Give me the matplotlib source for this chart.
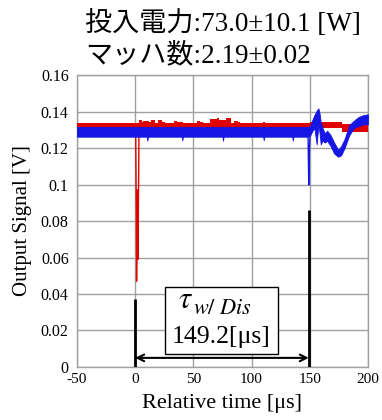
import matplotlib
matplotlib.use("Agg")
import matplotlib.pyplot as plt
from matplotlib.patches import Rectangle

plt.rcParams['mathtext.fontset'] = 'stix'

# ---- data ----
# Red trace (band envelope, step-wise), relative time [us], signal [V]
red_t  = [-50, 3, 6, 7, 12, 14, 17, 20, 23, 26, 33, 36, 41, 53, 56, 58, 64, 70, 72, 78, 82,
          85, 88, 90, 110, 112, 130, 150, 178, 200]
red_hi = [0.1338, 0.1352, 0.1340, 0.1350, 0.1340, 0.1352, 0.1338, 0.1351, 0.1340, 0.1338,
          0.1349, 0.1340, 0.1338, 0.1349, 0.1341, 0.1338, 0.1358, 0.1366, 0.1355, 0.1362,
          0.1338, 0.1347, 0.1340, 0.1338, 0.1343, 0.1338, 0.1338, 0.1344, 0.1334, 0.1334]
red_lo = [0.1305] * 27 + [0.1308, 0.1285, 0.1285]
# Red discharge dip around t = 0
red_dip_t = [0.4, 0.9, 1.2, 1.6, 2.0, 2.4, 2.8, 3.3]
red_dip_v = [0.131, 0.090, 0.047, 0.075, 0.097, 0.059, 0.090, 0.131]

# Blue trace (band envelope)
blue_t  = [-50, 10, 10.5, 11, 40, 40.5, 41, 75, 75.5, 76, 110, 110.5, 111, 135, 135.5, 136,
           148.5, 150.5, 152, 154, 156, 157.5, 158.5, 159.5, 161, 163, 165, 168, 171,
           174.5, 177, 180, 184, 188, 192, 196, 200]
blue_lo = [0.1262, 0.1262, 0.1240, 0.1262, 0.1262, 0.1242, 0.1262, 0.1262, 0.1240, 0.1262,
           0.1262, 0.1243, 0.1262, 0.1262, 0.1241, 0.1262,
           0.1262, 0.1270, 0.1290, 0.1310, 0.1220, 0.1330, 0.1280, 0.1220, 0.1240, 0.1230,
           0.1240, 0.1210, 0.1170, 0.1152, 0.1160, 0.1200, 0.1270, 0.1310, 0.1320, 0.1330, 0.1330]
blue_hi = [0.1316, 0.1316, 0.1316, 0.1316, 0.1316, 0.1316, 0.1316, 0.1316, 0.1316, 0.1316,
           0.1316, 0.1316, 0.1316, 0.1316, 0.1316, 0.1316,
           0.1316, 0.1320, 0.1350, 0.1380, 0.1405, 0.1417, 0.1390, 0.1340, 0.1310, 0.1280,
           0.1295, 0.1270, 0.1230, 0.1190, 0.1210, 0.1250, 0.1326, 0.1350, 0.1370, 0.1380, 0.1385]
# Blue dip at the second discharge
blue_dip_t = [148.6, 149.2, 149.8, 150.5]
blue_dip_v = [0.127, 0.0997, 0.120, 0.130]

# Annotation values
tau = 149.2
marker0_top = 0.037
marker1_top = 0.086
arrow_y = 0.005

title_lines = ["投入電力:73.0±10.1 [W]", "マッハ数:2.19±0.02"]
x_ticks = [-50, 0, 50, 100, 150, 200]
y_ticks = [0, 0.02, 0.04, 0.06, 0.08, 0.1, 0.12, 0.14, 0.16]
y_ticklabels = ["0", "0.02", "0.04", "0.06", "0.08", "0.1", "0.12", "0.14", "0.16"]

serif = ['Liberation Serif', 'Noto Sans CJK JP']
red = '#e00000'
blue = '#1515e6'

fig = plt.figure(figsize=(3.82, 4.2), dpi=100)
ax = fig.add_axes([0.2016, 0.1262, 0.7614, 0.6952])

ax.fill_between(red_t, red_lo, red_hi, step='post', color=red, lw=0, zorder=3)
ax.plot(red_dip_t, red_dip_v, color=red, lw=1.0, zorder=3)
ax.fill_between(blue_t, blue_lo, blue_hi, color=blue, lw=0.6, edgecolor=blue, zorder=4)
ax.plot(blue_dip_t, blue_dip_v, color=blue, lw=1.0, zorder=4)

# markers
ax.plot([0, 0], [0, marker0_top], color='black', lw=2, zorder=5, solid_capstyle='butt')
ax.plot([tau, tau], [0, marker1_top], color='black', lw=2, zorder=5, solid_capstyle='butt')
ax.annotate('', xy=(tau, arrow_y), xytext=(0, arrow_y),
            arrowprops=dict(arrowstyle='<->', color='black', lw=1.5,
                            shrinkA=0, shrinkB=0, mutation_scale=12), zorder=6)
ax.add_patch(Rectangle((25.8, 0.0071), 97.1, 0.0367, fc='white', ec='black', lw=1, zorder=7))
ax.text(43, 0.0372, r'$\tau$', ha='center', va='center', fontsize=22, zorder=8)
ax.text(49.5, 0.0322, r'$w/\ Dis$', ha='left', va='center', fontsize=16, zorder=8)
ax.text(74, 0.0164, f'{tau}[μs]', ha='center', va='center', fontsize=18.5,
        family=serif, zorder=8)

ax.set_xlim(-50, 200)
ax.set_ylim(0, 0.16)
ax.set_xticks(x_ticks)
ax.set_yticks(y_ticks)
ax.set_xticklabels([str(v) for v in x_ticks], family=serif, fontsize=11)
ax.set_yticklabels(y_ticklabels, family=serif, fontsize=11.5)
ax.tick_params(length=0, pad=6)
ax.tick_params(axis='x', pad=4)
ax.grid(True, color='#a0a0a0', lw=1)
ax.set_axisbelow(True)
for s in ax.spines.values():
    s.set_color('#a0a0a0')
    s.set_linewidth(1)

ax.set_xlabel('Relative time [μs]', family=serif, fontsize=16, labelpad=6)
ax.set_ylabel('Output Signal [V]', family=serif, fontsize=15, labelpad=6)

fig.text(0.222, 0.943, title_lines[0], ha='left', va='center', family=serif, fontsize=19.5)
fig.text(0.222, 0.869, title_lines[1], ha='left', va='center', family=serif, fontsize=19.5)

fig.savefig('out.png', dpi=100)
